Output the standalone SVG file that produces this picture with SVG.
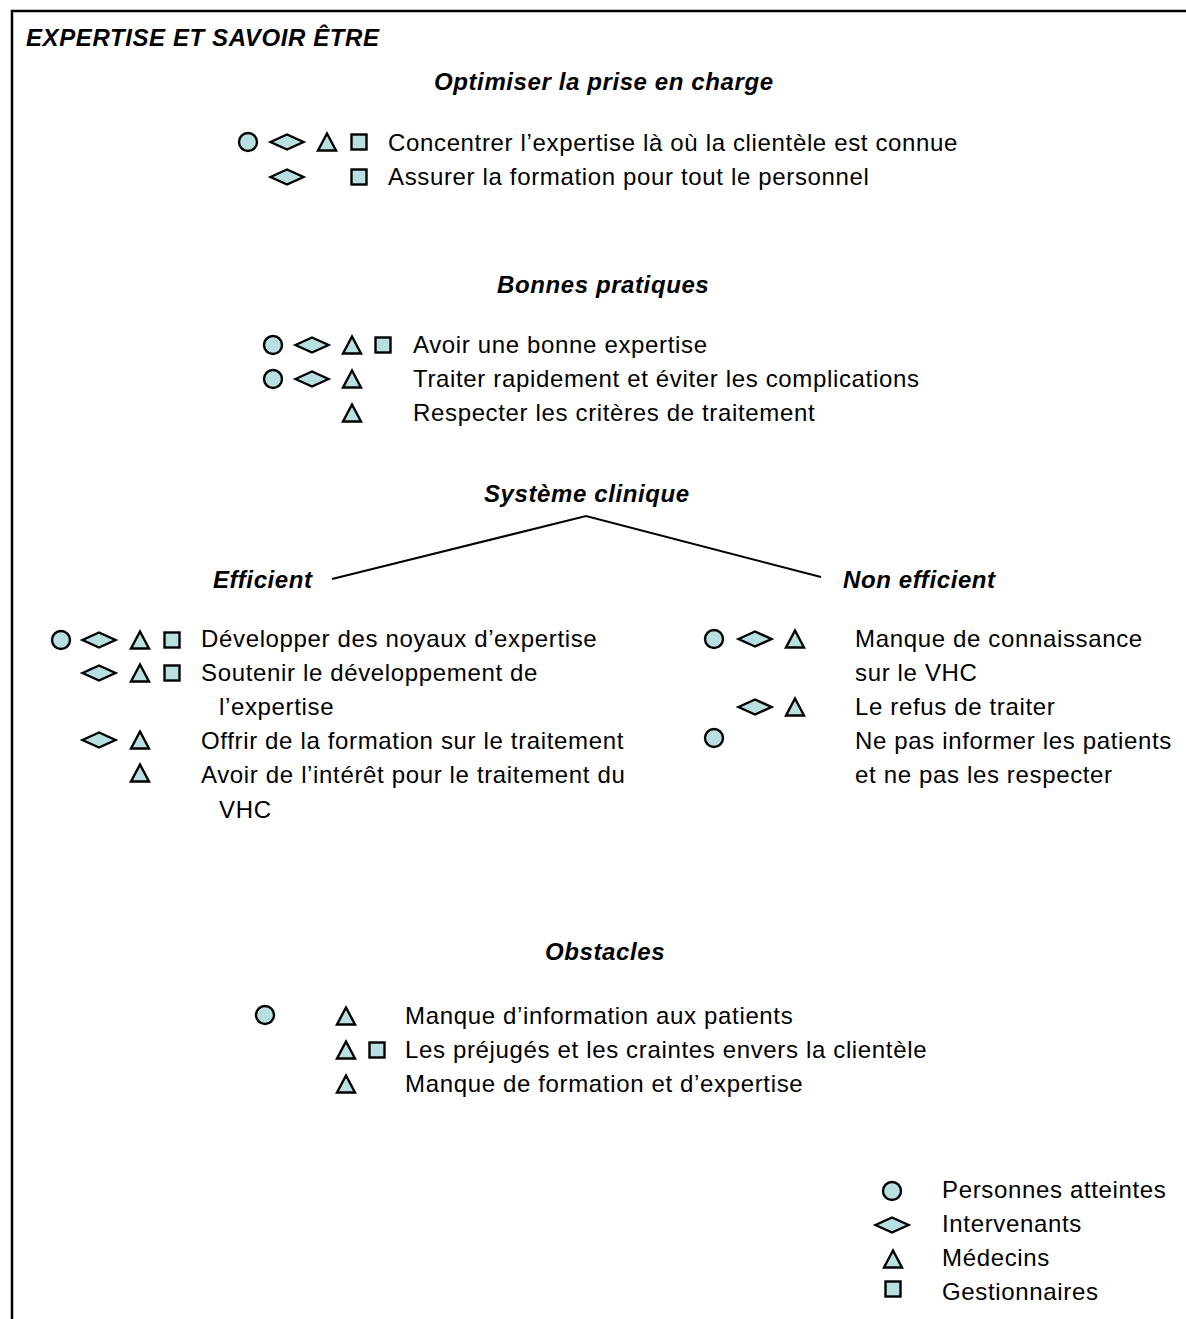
<svg xmlns="http://www.w3.org/2000/svg" xmlns:xlink="http://www.w3.org/1999/xlink" width="1186" height="1319" viewBox="0 0 1186 1319">
<style>
.t{font-family:"Liberation Sans",Arial,sans-serif;font-size:24px;letter-spacing:0.65px;fill:#000}
.h{font-family:"Liberation Sans",Arial,sans-serif;font-size:24px;font-weight:bold;font-style:italic;letter-spacing:0.6px;fill:#000}
.s{fill:#b8e0e0;stroke:#000;stroke-width:2.4}
.ln{fill:none;stroke:#000;stroke-width:2}
</style>
<defs>
<circle id="ci" r="9"/>
<polygon id="di" points="-16.5,0 0,-7.5 16.5,0 0,7.5"/>
<polygon id="tr" points="0,-8.5 9,8.5 -9,8.5"/>
<rect id="sq" x="-7.5" y="-7.5" width="15" height="15"/>
</defs>
<rect x="0" y="0" width="1186" height="1319" fill="#fff"/>
<g id="frame" class="ln" style="stroke-width:2.5">
<polyline points="12,1319 12,11 1186,11"/>
</g>
<g id="title"><text class="h" x="26" y="46">EXPERTISE ET SAVOIR ÊTRE</text></g>

<g id="optimiser">
<text class="h" x="434" y="90">Optimiser la prise en charge</text>
<g class="s">
<use xlink:href="#ci" x="248" y="142"/><use xlink:href="#di" x="287" y="142"/><use xlink:href="#tr" x="327" y="142"/><use xlink:href="#sq" x="359" y="142"/>
<use xlink:href="#di" x="287" y="177"/><use xlink:href="#sq" x="359" y="177"/>
</g>
<text class="t" x="388" y="151">Concentrer l’expertise là où la clientèle est connue</text>
<text class="t" x="388" y="185">Assurer la formation pour tout le personnel</text>
</g>

<g id="bonnes">
<text class="h" x="497" y="293">Bonnes pratiques</text>
<g class="s">
<use xlink:href="#ci" x="273" y="345"/><use xlink:href="#di" x="312" y="345"/><use xlink:href="#tr" x="352" y="345"/><use xlink:href="#sq" x="383" y="345"/>
<use xlink:href="#ci" x="273" y="379"/><use xlink:href="#di" x="312" y="379"/><use xlink:href="#tr" x="352" y="379"/>
<use xlink:href="#tr" x="352" y="413"/>
</g>
<text class="t" x="413" y="353">Avoir une bonne expertise</text>
<text class="t" x="413" y="387">Traiter rapidement et éviter les complications</text>
<text class="t" x="413" y="421">Respecter les critères de traitement</text>
</g>

<g id="systeme"><text class="h" x="484" y="502">Système clinique</text></g>

<g id="connectors" class="ln">
<polyline points="332,579 586,516 821,577"/>
</g>

<g id="efficient">
<text class="h" x="213" y="588">Efficient</text>
<g class="s">
<use xlink:href="#ci" x="61" y="640"/><use xlink:href="#di" x="99" y="640"/><use xlink:href="#tr" x="140" y="640"/><use xlink:href="#sq" x="172" y="640"/>
<use xlink:href="#di" x="99" y="673"/><use xlink:href="#tr" x="140" y="673"/><use xlink:href="#sq" x="172" y="673"/>
<use xlink:href="#di" x="99" y="740"/><use xlink:href="#tr" x="140" y="740"/>
<use xlink:href="#tr" x="140" y="773"/>
</g>
<text class="t" x="201" y="647">Développer des noyaux d’expertise</text>
<text class="t" x="201" y="681">Soutenir le développement de</text>
<text class="t" x="219" y="715">l’expertise</text>
<text class="t" x="201" y="749">Offrir de la formation sur le traitement</text>
<text class="t" x="201" y="783">Avoir de l’intérêt pour le traitement du</text>
<text class="t" x="219" y="818">VHC</text>
</g>

<g id="non-efficient">
<text class="h" x="843" y="588">Non efficient</text>
<g class="s">
<use xlink:href="#ci" x="714" y="639"/><use xlink:href="#di" x="755" y="639"/><use xlink:href="#tr" x="795" y="639"/>
<use xlink:href="#di" x="755" y="707"/><use xlink:href="#tr" x="795" y="707"/>
<use xlink:href="#ci" x="714" y="738"/>
</g>
<text class="t" x="855" y="647">Manque de connaissance</text>
<text class="t" x="855" y="681">sur le VHC</text>
<text class="t" x="855" y="715">Le refus de traiter</text>
<text class="t" x="855" y="749">Ne pas informer les patients</text>
<text class="t" x="855" y="783">et ne pas les respecter</text>
</g>

<g id="obstacles">
<text class="h" x="545" y="960">Obstacles</text>
<g class="s">
<use xlink:href="#ci" x="265" y="1015"/><use xlink:href="#tr" x="346" y="1016"/>
<use xlink:href="#tr" x="346" y="1050"/><use xlink:href="#sq" x="377" y="1050"/>
<use xlink:href="#tr" x="346" y="1084"/>
</g>
<text class="t" x="405" y="1024">Manque d’information aux patients</text>
<text class="t" x="405" y="1058">Les préjugés et les craintes envers la clientèle</text>
<text class="t" x="405" y="1092">Manque de formation et d’expertise</text>
</g>

<g id="legend">
<g class="s">
<use xlink:href="#ci" x="892" y="1191"/>
<use xlink:href="#di" x="892" y="1225"/>
<use xlink:href="#tr" x="893" y="1259"/>
<use xlink:href="#sq" x="893" y="1289"/>
</g>
<text class="t" x="942" y="1198">Personnes atteintes</text>
<text class="t" x="942" y="1232">Intervenants</text>
<text class="t" x="942" y="1266">Médecins</text>
<text class="t" x="942" y="1300">Gestionnaires</text>
</g>
</svg>
